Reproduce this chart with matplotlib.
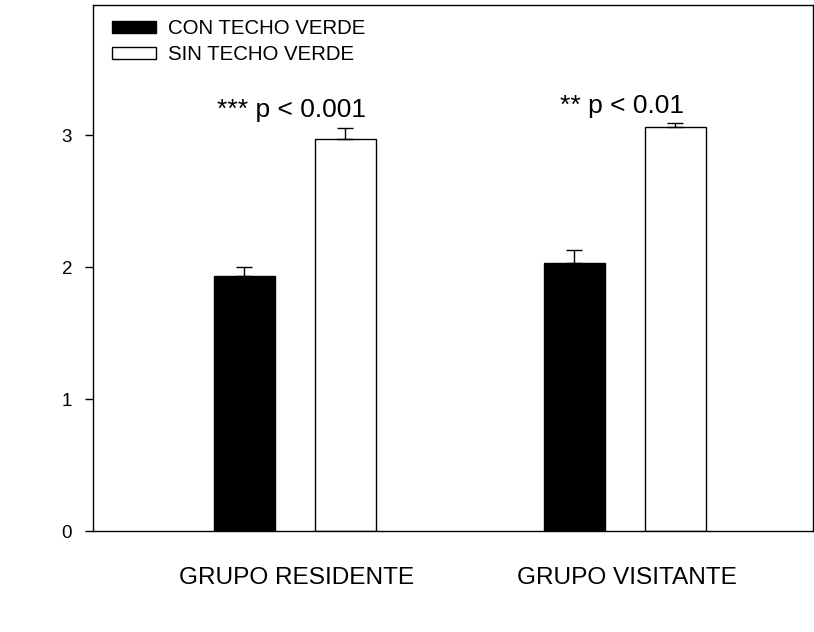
import numpy as np
import matplotlib
matplotlib.use("Agg")
import matplotlib.pyplot as plt
from matplotlib.patches import Patch

plt.rcParams['font.family'] = ['Liberation Sans', 'DejaVu Sans']

# mean scores and upper standard errors per group
groups = ['GRUPO RESIDENTE', 'GRUPO VISITANTE']
con_techo = [1.93, 2.03]
con_techo_err = [0.07, 0.10]
sin_techo = [2.97, 3.06]
sin_techo_err = [0.083, 0.028]
p_labels = ['*** p < 0.001', '** p < 0.01']
series_names = ['CON TECHO VERDE', 'SIN TECHO VERDE']

fig = plt.figure(figsize=(8.14, 6.32), dpi=100)
ax = fig.add_axes([0.1143, 0.1598, 0.8845, 0.8323])

x = np.arange(len(groups))
width = 0.185
offset = 0.153

ax.bar(x - offset, con_techo, width, color='black', edgecolor='black', linewidth=1)
ax.bar(x + offset, sin_techo, width, color='white', edgecolor='black', linewidth=1)

# upper error bars only
ax.errorbar(x - offset, con_techo, yerr=[np.zeros(len(x)), con_techo_err],
            fmt='none', ecolor='black', elinewidth=1, capsize=6, capthick=1)
ax.errorbar(x + offset, sin_techo, yerr=[np.zeros(len(x)), sin_techo_err],
            fmt='none', ecolor='black', elinewidth=1, capsize=6, capthick=1)

# significance text above each pair
for i, lab in enumerate(p_labels):
    top = sin_techo[i] + sin_techo_err[i]
    ax.text(x[i] - 0.01, top + 0.08, lab, ha='center', va='baseline', fontsize=19)

# group names under the axis
for xi, g in zip(x, groups):
    ax.text(xi + 0.005, -0.09, g, transform=ax.get_xaxis_transform(),
            ha='center', va='center', fontsize=17.6)

ax.set_xlim(-0.612, 1.570)
ax.set_ylim(0, 3.985)
ax.set_xticks([])
ax.set_yticks([0, 1, 2, 3])
ax.tick_params(axis='y', direction='out', length=6, width=1, pad=9, labelsize=13.5)
for s in ax.spines.values():
    s.set_linewidth(1)

handles = [Patch(facecolor='black', edgecolor='black', linewidth=1),
           Patch(facecolor='white', edgecolor='black', linewidth=1)]
ax.legend(handles, series_names, loc='upper left', bbox_to_anchor=(0.0264, 0.973),
          frameon=False, fontsize=14.7, handlelength=2.16, handleheight=0.54,
          handletextpad=0.59, labelspacing=0.34, borderaxespad=0, borderpad=0)

fig.savefig('out.png', dpi=100)
